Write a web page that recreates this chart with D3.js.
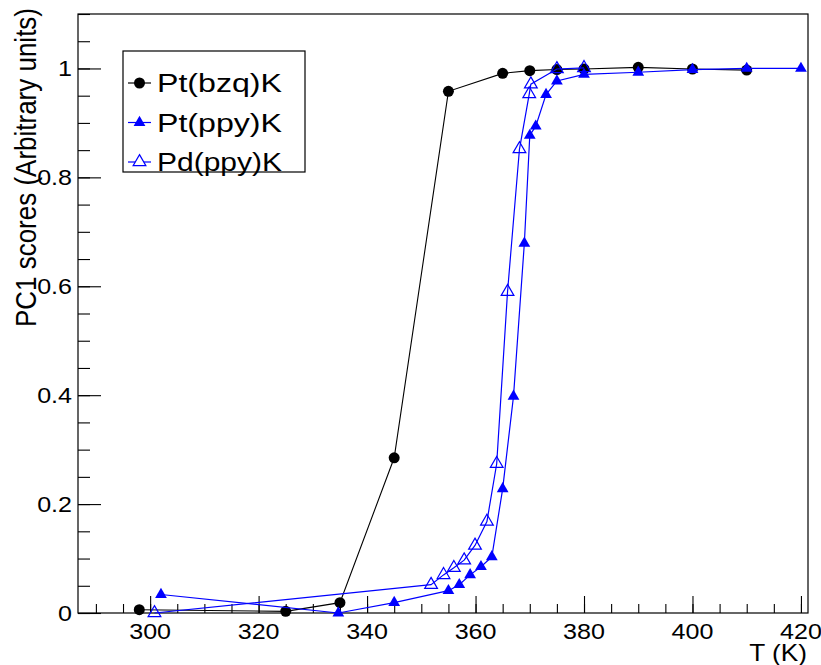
<!DOCTYPE html>
<html>
<head>
<meta charset="utf-8">
<script src="https://cdn.jsdelivr.net/npm/d3@7"></script>
<style>
  body { margin: 0; background: #fff; }
  text { font-family: "Liberation Sans", Arial, sans-serif; fill: #000; }
</style>
</head>
<body>
<div id="chart"></div>
<script>
// PC1 scores vs temperature
var bzqT = [298, 325, 335, 345, 355, 365, 370, 375, 380, 390, 400, 410];
var bzqY = [0.006, 0.003, 0.019, 0.285, 0.958, 0.991, 0.996, 0.998, 0.999, 1.002, 0.999, 0.997];

var ptT = [302, 334.7, 345, 355, 357, 359, 361, 363, 365, 367, 369, 370, 371.1, 373, 375, 380, 390, 400, 410, 420];
var ptY = [0.034, 0.0, 0.019, 0.041, 0.052, 0.07, 0.085, 0.103, 0.228, 0.398, 0.679, 0.877, 0.894, 0.952, 0.977, 0.989, 0.993, 0.998, 1.0, 1.0];

var pdT = [300.8, 351.8, 354.1, 356, 357.9, 359.9, 362.1, 363.9, 365.9, 368.1, 369.9, 370.2, 375, 380];
var pdY = [0.0, 0.052, 0.07, 0.083, 0.097, 0.124, 0.168, 0.274, 0.59, 0.852, 0.953, 0.971, 0.999, 1.001];

var xMajorTicks = [300, 320, 340, 360, 380, 400, 420];
var yMajorTicks = [0, 0.2, 0.4, 0.6, 0.8, 1];
var yTickLabels = ["0", "0.2", "0.4", "0.6", "0.8", "1"];
var legendLabels = ["Pt(bzq)K", "Pt(ppy)K", "Pd(ppy)K"];

var width = 821, height = 665;
var frameL = 78, frameR = 808, frameT = 14, frameB = 613;
var stretch = 1.14; // text in the picture is a bit wider than tall

var svg = d3.select("#chart").append("svg")
    .attr("width", width)
    .attr("height", height);

var xScale = d3.scaleLinear().domain([286.7, 421.3]).range([frameL, frameR]);
var yScale = d3.scaleLinear().domain([0, 1.1]).range([frameB, frameT]);

var xMinor = d3.range(290, 421, 5);
var yMinor = d3.range(0, 1.1001, 0.05);

// frame
svg.append("rect")
    .attr("x", frameL).attr("y", frameT)
    .attr("width", frameR - frameL).attr("height", frameB - frameT)
    .style("fill", "none").style("stroke", "#000").style("stroke-width", 1.2);

// ticks point inward, ROOT style
svg.append("g")
    .attr("transform", "translate(0," + frameB + ")")
    .call(d3.axisBottom(xScale).tickValues(xMinor).tickSize(-9).tickFormat(""))
    .call(function(g) { g.select(".domain").remove(); });
svg.append("g")
    .attr("transform", "translate(0," + frameB + ")")
    .call(d3.axisBottom(xScale).tickValues(xMajorTicks).tickSize(-17).tickFormat(""))
    .call(function(g) { g.select(".domain").remove(); });
svg.append("g")
    .attr("transform", "translate(" + frameL + ",0)")
    .call(d3.axisLeft(yScale).tickValues(yMinor).tickSize(-12).tickFormat(""))
    .call(function(g) { g.select(".domain").remove(); });
svg.append("g")
    .attr("transform", "translate(" + frameL + ",0)")
    .call(d3.axisLeft(yScale).tickValues(yMajorTicks).tickSize(-23).tickFormat(""))
    .call(function(g) { g.select(".domain").remove(); });
svg.selectAll(".tick line").style("stroke", "#000").style("stroke-width", 1.1);

// tick labels
svg.selectAll(".xlab")
    .data(xMajorTicks)
  .enter()
    .append("text")
    .attr("class", "xlab")
    .attr("text-anchor", "middle")
    .attr("transform", function(d) { return "translate(" + xScale(d) + ",639) scale(" + stretch + ",1)"; })
    .style("font-size", "22px")
    .text(function(d) { return d; });

svg.selectAll(".ylab")
    .data(yMajorTicks)
  .enter()
    .append("text")
    .attr("class", "ylab")
    .attr("text-anchor", "end")
    .attr("transform", function(d) { return "translate(72," + (yScale(d) + 7.5) + ") scale(" + stretch + ",1)"; })
    .style("font-size", "22px")
    .text(function(d, i) { return yTickLabels[i]; });

// axis titles
svg.append("text")
    .attr("text-anchor", "end")
    .attr("transform", "translate(807,661) scale(" + stretch + ",1)")
    .style("font-size", "23px")
    .text("T (K)");

svg.append("text")
    .attr("text-anchor", "end")
    .attr("transform", "translate(36,8) rotate(-90) scale(1," + stretch + ")")
    .style("font-size", "26px")
    .text("PC1 scores (Arbitrary units)");

// series
var line = d3.line()
    .x(function(d) { return xScale(d[0]); })
    .y(function(d) { return yScale(d[1]); });

var tri = d3.symbol().type(d3.symbolTriangle).size(60);
var triOpen = d3.symbol().type(d3.symbolTriangle).size(70);

function zip(a, b) { return a.map(function(v, i) { return [v, b[i]]; }); }

var bzq = zip(bzqT, bzqY), pt = zip(ptT, ptY), pd = zip(pdT, pdY);

svg.append("path").datum(bzq).attr("d", line)
    .style("fill", "none").style("stroke", "#000").style("stroke-width", 1.1);
svg.selectAll(".bzq").data(bzq).enter().append("circle")
    .attr("class", "bzq")
    .attr("cx", function(d) { return xScale(d[0]); })
    .attr("cy", function(d) { return yScale(d[1]); })
    .attr("r", 5.5)
    .style("fill", "#000");

svg.append("path").datum(pt).attr("d", line)
    .style("fill", "none").style("stroke", "#0000ff").style("stroke-width", 1.2);
svg.selectAll(".pt").data(pt).enter().append("path")
    .attr("class", "pt")
    .attr("d", tri)
    .attr("transform", function(d) { return "translate(" + xScale(d[0]) + "," + yScale(d[1]) + ")"; })
    .style("fill", "#0000ff");

svg.append("path").datum(pd).attr("d", line)
    .style("fill", "none").style("stroke", "#0000ff").style("stroke-width", 1.2);
svg.selectAll(".pd").data(pd).enter().append("path")
    .attr("class", "pd")
    .attr("d", triOpen)
    .attr("transform", function(d) { return "translate(" + xScale(d[0]) + "," + yScale(d[1]) + ")"; })
    .style("fill", "none").style("stroke", "#0000ff").style("stroke-width", 1.2);

// legend
var lg = svg.append("g");
lg.append("rect")
    .attr("x", 123).attr("y", 51).attr("width", 182).attr("height", 121)
    .style("fill", "#fff").style("stroke", "#000").style("stroke-width", 1.2);

var legendColors = ["#000", "#0000ff", "#0000ff"];
var rowY = function(i) { return 83 + i * 39.5; };

lg.selectAll(".legLine").data(legendLabels).enter().append("line")
    .attr("class", "legLine")
    .attr("x1", 128).attr("x2", 151)
    .attr("y1", function(d, i) { return rowY(i); })
    .attr("y2", function(d, i) { return rowY(i); })
    .style("stroke", function(d, i) { return legendColors[i]; })
    .style("stroke-width", 1.2);

lg.append("circle").attr("cx", 139.5).attr("cy", rowY(0)).attr("r", 5.5).style("fill", "#000");
lg.append("path").attr("d", tri)
    .attr("transform", "translate(139.5," + rowY(1) + ")")
    .style("fill", "#0000ff");
lg.append("path").attr("d", triOpen)
    .attr("transform", "translate(139.5," + rowY(2) + ")")
    .style("fill", "#fff").style("stroke", "#0000ff").style("stroke-width", 1.2);

lg.selectAll(".legText").data(legendLabels).enter().append("text")
    .attr("class", "legText")
    .attr("x", 157)
    .attr("y", function(d, i) { return rowY(i) + 9; })
    .attr("textLength", 125)
    .attr("lengthAdjust", "spacingAndGlyphs")
    .style("font-size", "25px")
    .text(function(d) { return d; });
</script>
</body>
</html>
